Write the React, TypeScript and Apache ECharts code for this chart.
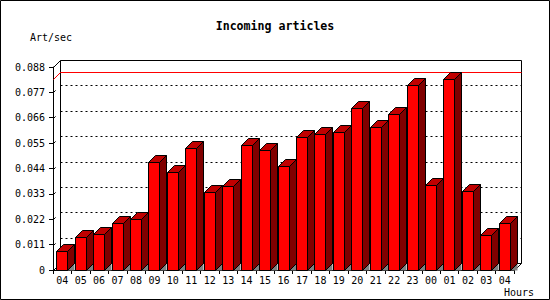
import React, { useEffect, useRef } from "react";
import * as echarts from "echarts";

const hours = ["04","05","06","07","08","09","10","11","12","13","14","15","16","17","18","19","20","21","22","23","00","01","02","03","04"];
const artPerSec = [0.0081,0.0145,0.0158,0.0202,0.0223,0.0468,0.0423,0.0528,0.0337,0.0364,0.0542,0.0520,0.0451,0.0577,0.0589,0.0599,0.0702,0.0619,0.0677,0.0802,0.0367,0.0828,0.0341,0.0150,0.0202];
const yMax = 0.088;
const yStep = 0.011;
const titleText = "Incoming articles";
const yName = "Art/sec";
const xName = "Hours";

const FONT = "DejaVu Sans Mono";

export default function App() {
  const ref = useRef<HTMLDivElement>(null);
  useEffect(() => {
    const chart = echarts.init(ref.current!, null, { renderer: "svg" });
    const D = 7;
    const maxVal = Math.max(...artPerSec);
    const ticks: number[] = [];
    for (let k = 0; k <= Math.round(yMax / yStep); k++) ticks.push(+(k * yStep).toFixed(3));

    const frameRender = (_p: any, api: any) => {
      const band = api.size([1, 0])[0];
      const c0 = api.coord([0, 0]);
      const cN = api.coord([hours.length - 1, 0]);
      const xl = Math.round(c0[0] - band / 2) + 0.5;
      const xr = Math.round(cN[0] + band / 2) + 0.5;
      const yOf = (v: number) => Math.round(api.coord([0, v])[1]) + 0.5;
      const yTop = yOf(yMax);
      const yBot = yOf(0);
      const children: any[] = [];
      children.push({
        type: "rect",
        shape: { x: xl + D, y: yTop - D, width: xr - xl, height: yBot - yTop },
        style: { fill: "#fff", stroke: "#000", lineWidth: 1 },
      });
      ticks.forEach((t) => {
        const y = yOf(t);
        const inner = t > 0 && t < yMax - 1e-9;
        if (inner) {
          children.push({
            type: "line",
            shape: { x1: xl + D, y1: y - D, x2: xr + D, y2: y - D },
            style: { stroke: "#000", lineWidth: 1, lineDash: [2, 3] },
          });
        }
        children.push({
          type: "line",
          shape: { x1: xl, y1: y, x2: xl + D, y2: y - D },
          style: { stroke: "#000", lineWidth: 1, lineDash: inner ? [3, 30] : null },
        });
      });
      children.push({
        type: "line",
        shape: { x1: xr, y1: yBot, x2: xr + D, y2: yBot - D },
        style: { stroke: "#000", lineWidth: 1 },
      });
      const ym = yOf(maxVal);
      children.push({
        type: "polyline",
        shape: { points: [[xl, ym], [xl + D, ym - D], [xr + D, ym - D]] },
        style: { stroke: "#ff0000", lineWidth: 1, fill: "none" },
      });
      return { type: "group", children };
    };

    const barRender = (_p: any, api: any) => {
      const i = api.value(0);
      const v = api.value(1);
      const top = api.coord([i, v]);
      const base = api.coord([i, 0]);
      const bw = 11;
      const x1 = Math.round(top[0] - bw / 2 - 0.5) + 0.5;
      const x2 = x1 + bw;
      const yt = Math.round(top[1]) + 0.5;
      const yb = Math.round(base[1]) + 0.5;
      return {
        type: "group",
        children: [
          {
            type: "polygon",
            shape: { points: [[x2, yb], [x2 + D, yb - D], [x2 + D, yb]] },
            style: { fill: "#808080", stroke: "none" },
          },
          {
            type: "polygon",
            shape: { points: [[x2, yt], [x2 + D, yt - D], [x2 + D, yb - D], [x2, yb]] },
            style: { fill: "#800000", stroke: "#000", lineWidth: 1 },
          },
          {
            type: "polygon",
            shape: { points: [[x1, yt], [x1 + D, yt - D], [x2 + D, yt - D], [x2, yt]] },
            style: { fill: "#c00000", stroke: "#000", lineWidth: 1 },
          },
          {
            type: "rect",
            shape: { x: x1, y: yt, width: x2 - x1, height: yb - yt },
            style: { fill: "#ff0000", stroke: "#000", lineWidth: 1 },
          },
        ],
      };
    };

    chart.setOption({
      animation: false,
      backgroundColor: "#fff",
      title: {
        text: titleText,
        left: "center",
        top: 15,
        textStyle: { fontFamily: FONT, fontSize: 11.6, fontWeight: "bold", color: "#000" },
      },
      grid: { left: 53, right: 36, top: 67, bottom: 30 },
      xAxis: {
        type: "category",
        data: hours,
        boundaryGap: true,
        axisLine: { lineStyle: { color: "#000", width: 1 } },
        axisTick: { show: true, length: 4, interval: 0, lineStyle: { color: "#000" } },
        axisLabel: { interval: 0, margin: 5, fontFamily: FONT, fontSize: 10, color: "#000" },
        splitLine: { show: false },
      },
      yAxis: {
        type: "value",
        min: 0,
        max: yMax,
        interval: yStep,
        axisLine: { show: true, lineStyle: { color: "#000", width: 1 } },
        axisTick: { show: true, length: 4, lineStyle: { color: "#000" } },
        axisLabel: {
          margin: 8,
          fontFamily: FONT,
          fontSize: 10,
          color: "#000",
          formatter: (v: number) => (v === 0 ? "0" : v.toFixed(3)),
        },
        splitLine: { show: false },
      },
      graphic: [
        {
          type: "rect",
          shape: { x: 0.5, y: 0.5, width: 549, height: 299 },
          style: { fill: "none", stroke: "#000", lineWidth: 1 },
          z: 100,
        },
        {
          type: "text",
          x: 30,
          y: 37,
          style: { text: yName, font: `10px "${FONT}"`, fill: "#000", textVerticalAlign: "middle" },
        },
        {
          type: "text",
          x: 504,
          y: 292,
          style: { text: xName, font: `10px "${FONT}"`, fill: "#000", textVerticalAlign: "middle" },
        },
      ],
      series: [
        {
          type: "custom",
          name: "frame",
          z: 1,
          silent: true,
          data: [[0, 0]],
          encode: { x: 0, y: 1 },
          renderItem: frameRender,
        },
        {
          type: "custom",
          name: "bars",
          z: 3,
          data: artPerSec.map((v, i) => [i, v]),
          encode: { x: 0, y: 1 },
          renderItem: barRender,
        },
      ],
    });
    return () => chart.dispose();
  }, []);
  return (
    <div
      ref={ref}
      style={{ position: "absolute", left: 0, top: 0, width: 550, height: 300, background: "#fff" }}
    />
  );
}
